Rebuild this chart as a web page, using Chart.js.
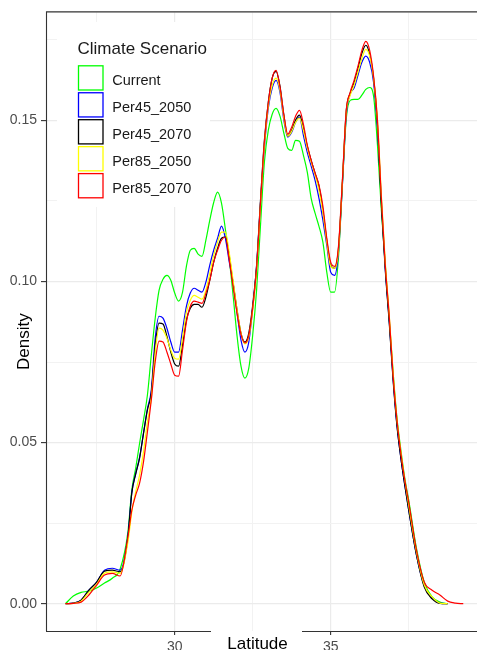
<!DOCTYPE html>
<html>
<head>
<meta charset="utf-8">
<script src="https://cdn.jsdelivr.net/npm/chart.js@4.4.1/dist/chart.umd.min.js"></script>
<style>
html,body{margin:0;padding:0;background:#ffffff;overflow:hidden}
canvas{display:block}
</style>
</head>
<body>
<canvas id="c" width="477" height="650"></canvas>
<script>
// ---- data ----
const latitude = [26.5, 26.75, 27, 27.25, 27.5, 27.75, 28, 28.25,
  28.5, 28.625, 28.75, 28.875, 29, 29.125, 29.25, 29.375, 29.5, 29.625, 29.75, 29.875,
  30, 30.125, 30.25, 30.375, 30.5, 30.625, 30.75, 30.875, 31, 31.125, 31.25, 31.375,
  31.5, 31.625, 31.75, 31.875, 32, 32.125, 32.25, 32.375, 32.5, 32.625, 32.75, 32.875,
  33, 33.125, 33.25, 33.375, 33.5, 33.625, 33.75, 33.875, 34, 34.125, 34.25, 34.375,
  34.5, 34.625, 34.75, 34.875, 35, 35.125, 35.25, 35.375, 35.5, 35.625, 35.75, 35.875,
  36, 36.125, 36.25, 36.375, 36.5, 36.625, 36.75, 36.875, 37, 37.125, 37.25, 37.375,
  37.5, 37.75, 38, 38.25, 38.5, 38.75, 39, 39.25];

const current = [0, .0024, .0035, .0039, .0049, .0064, .0079, .0107,
  .0222, .0353, .0421, .0498, .0570, .0647, .0771, .0886, .0973, .1007, .1019, .1004,
  .0964, .0939, .0966, .1047, .1097, .1103, .1085, .1078, .1128, .1190, .1245, .1277,
  .1243, .1162, .1069, .0954, .0830, .0737, .0700, .0731, .0833, .0973, .1174, .1370,
  .1469, .1519, .1537, .1513, .1460, .1413, .1407, .1438, .1435, .1392, .1339, .1258,
  .1212, .1171, .1122, .1029, .0967, .0967, .1075, .1299, .1506, .1562, .1565, .1565,
  .1578, .1596, .1602, .1575, .1423, .1221, .1051, .0886, .0719, .0576, .0477, .0390,
  .0322, .0172, .0067, .0021, .0005, 0, null, null];

const per45_2050 = [0, .0002, .0011, .0042, .0067, .0104, .0110, .0104,
  .0210, .0345, .0404, .0455, .0530, .0605, .0663, .0824, .0892, .0886, .0855, .0812,
  .0781, .0781, .0849, .0923, .0964, .0979, .0973, .0967, .0998, .1051, .1097, .1134,
  .1172, .1134, .1060, .0995, .0901, .0818, .0781, .0812, .0917, .1047, .1243, .1414,
  .1538, .1600, .1624, .1587, .1500, .1448, .1463, .1494, .1510, .1454, .1401, .1358,
  .1314, .1258, .1190, .1113, .1029, .1019, .1091, .1299, .1516, .1582, .1600, .1640,
  .1680, .1699, .1680, .1618, .1475, .1252, .1041, .0880, .0700, .0554, .0452, .0368,
  .0291, .0151, .0055, .0018, .0002, 0, null, null];

const per45_2070 = [0, .0002, .0011, .0042, .0067, .0101, .0104, .0099,
  .0204, .0343, .0402, .0452, .0528, .0601, .0654, .0802, .0871, .0868, .0830, .0781,
  .0744, .0737, .0802, .0880, .0917, .0929, .0929, .0920, .0951, .1004, .1060, .1103,
  .1134, .1138, .1079, .0992, .0911, .0840, .0812, .0840, .0926, .1050, .1252, .1438,
  .1556, .1631, .1652, .1606, .1516, .1451, .1469, .1501, .1516, .1476, .1420, .1376,
  .1336, .1296, .1221, .1128, .1050, .1041, .1103, .1308, .1531, .1584, .1618, .1662,
  .1708, .1733, .1705, .1631, .1485, .1237, .1035, .0874, .0694, .0551, .0452, .0368,
  .0291, .0151, .0052, .0015, .0001, 0, null, null];

const per85_2050 = [0, .0001, .0008, .0036, .0061, .0095, .0099, .0094,
  .0191, .0284, .0347, .0399, .0471, .0564, .0638, .0781, .0855, .0849, .0824, .0787,
  .0762, .0759, .0824, .0905, .0942, .0957, .0951, .0945, .0973, .1025, .1081, .1122,
  .1153, .1153, .1088, .1001, .0911, .0840, .0806, .0827, .0911, .1035, .1236, .1420,
  .1544, .1609, .1631, .1594, .1507, .1451, .1466, .1494, .1507, .1469, .1414, .1370,
  .1330, .1283, .1215, .1122, .1047, .1041, .1097, .1308, .1525, .1578, .1609, .1650,
  .1692, .1720, .1699, .1631, .1500, .1267, .1060, .0899, .0719, .0570, .0471, .0384,
  .0306, .0160, .0058, .0021, .0002, 0, null, null];

const per85_2070 = [0, .0001, .0005, .0027, .0058, .0089, .0094, .0086,
  .0207, .0290, .0337, .0374, .0440, .0533, .0632, .0750, .0815, .0812, .0781, .0744,
  .0709, .0706, .0787, .0874, .0923, .0939, .0936, .0932, .0963, .1004, .1060, .1097,
  .1128, .1138, .1066, .0983, .0901, .0836, .0809, .0833, .0917, .1041, .1243, .1432,
  .1554, .1631, .1655, .1603, .1516, .1457, .1479, .1513, .1531, .1488, .1423, .1376,
  .1336, .1299, .1234, .1134, .1060, .1047, .1109, .1314, .1531, .1587, .1624, .1668,
  .1717, .1745, .1717, .1637, .1500, .1258, .1051, .0896, .0709, .0570, .0467, .0384,
  .0316, .0166, .0067, .0042, .0027, .0008, .0002, 0];

const seriesNames = ['Current', 'Per45_2050', 'Per45_2070', 'Per85_2050', 'Per85_2070'];
const seriesValues = [current, per45_2050, per45_2070, per85_2050, per85_2070];
const seriesColors = ['#00FF00', '#0000FF', '#000000', '#FFFF00', '#FF0000'];

const xGridValues = [27.5, 30, 32.5, 35, 37.5];
const xLabelValues = [30, 35];
const yGridValues = [0, 0.025, 0.05, 0.075, 0.1, 0.125, 0.15, 0.175];
const yLabelValues = [0, 0.05, 0.1, 0.15];

const legendTitle = 'Climate Scenario';
const xTitle = 'Latitude';
const yTitle = 'Density';

// ---- helpers ----
const isIn = (arr, v) => arr.some(a => Math.abs(a - v) < 1e-9);
const FONT = '"Liberation Sans", Arial, sans-serif';

const decor = {
  id: 'decor',
  beforeDatasetsDraw(chart) {
    const ctx = chart.ctx;
    ctx.save();
    ctx.fillStyle = '#ffffff';
    ctx.fillRect(57, 22, 153, 185); // legend background
    ctx.restore();
  },
  afterDraw(chart) {
    const ctx = chart.ctx;
    const a = chart.chartArea;
    ctx.save();
    // panel border
    ctx.strokeStyle = '#333333';
    ctx.lineWidth = 1.1;
    ctx.beginPath();
    ctx.moveTo(a.left + 0.5, a.bottom + 0.5);
    ctx.lineTo(a.left + 0.5, a.top - 0.5);
    ctx.lineTo(a.right + 2, a.top - 0.5);
    ctx.moveTo(a.left, a.bottom + 0.5);
    ctx.lineTo(211, a.bottom + 0.5);
    ctx.moveTo(302, a.bottom + 0.5);
    ctx.lineTo(a.right + 2, a.bottom + 0.5);
    ctx.stroke();

    // legend
    ctx.fillStyle = '#1a1a1a';
    ctx.font = '17px ' + FONT;
    ctx.textAlign = 'left';
    ctx.textBaseline = 'alphabetic';
    ctx.fillText(legendTitle, 77.5, 54);
    ctx.font = '14.5px ' + FONT;
    seriesNames.forEach((name, i) => {
      const top = 65.8 + 26.95 * i;
      ctx.fillStyle = '#ffffff';
      ctx.fillRect(78.5, top, 24.5, 24.2);
      ctx.strokeStyle = seriesColors[i];
      ctx.lineWidth = 1.3;
      ctx.strokeRect(78.5, top, 24.5, 24.2);
      ctx.fillStyle = '#1a1a1a';
      ctx.fillText(name, 112.3, top + 19.2);
    });

    // axis titles
    ctx.fillStyle = '#000000';
    ctx.font = '17px ' + FONT;
    ctx.textAlign = 'center';
    ctx.fillText(xTitle, 257.5, 649);
    ctx.translate(28.5, 341.7);
    ctx.rotate(-Math.PI / 2);
    ctx.fillText(yTitle, 0, 0);
    ctx.restore();
  }
};

const datasets = seriesNames.map((name, i) => ({
  label: name,
  data: latitude.map((x, j) => ({ x: x, y: seriesValues[i][j] })),
  borderColor: seriesColors[i],
  backgroundColor: seriesColors[i],
  borderWidth: 1.2,
  pointRadius: 0,
  fill: false,
  cubicInterpolationMode: 'monotone',
  spanGaps: false,
  order: seriesNames.length - i
}));

new Chart(document.getElementById('c'), {
  type: 'line',
  data: { datasets },
  plugins: [decor],
  options: {
    responsive: false,
    devicePixelRatio: 1,
    animation: false,
    events: [],
    layout: { padding: { top: 12, right: 0, bottom: 0, left: 0 } },
    plugins: { legend: { display: false }, tooltip: { enabled: false }, title: { display: false } },
    scales: {
      x: {
        type: 'linear',
        min: 25.875,
        max: 39.69,
        afterBuildTicks: s => { s.ticks = xGridValues.map(v => ({ value: v })); },
        afterFit: s => { s.height = 19; },
        border: { display: false },
        grid: {
          color: ctx => isIn(xLabelValues, ctx.tick.value) ? '#EBEBEB' : '#F2F2F2',
          lineWidth: ctx => isIn(xLabelValues, ctx.tick.value) ? 1.2 : 1,
          drawTicks: true,
          tickLength: 4,
          tickWidth: 1.1,
          tickColor: ctx => isIn(xLabelValues, ctx.tick.value) ? '#333333' : 'rgba(0,0,0,0)'
        },
        ticks: {
          autoSkip: false,
          maxRotation: 0,
          padding: 3.5,
          color: '#4D4D4D',
          font: { family: FONT, size: 14 },
          callback: v => isIn(xLabelValues, v) ? String(Math.round(v)) : ''
        }
      },
      y: {
        type: 'linear',
        min: -0.00847,
        max: 0.1835,
        afterBuildTicks: s => { s.ticks = yGridValues.map(v => ({ value: v })); },
        afterFit: s => { s.width = 46; },
        border: { display: false },
        grid: {
          color: ctx => isIn(yLabelValues, ctx.tick.value) ? '#EBEBEB' : '#F2F2F2',
          lineWidth: ctx => isIn(yLabelValues, ctx.tick.value) ? 1.2 : 1,
          drawTicks: true,
          tickLength: 5,
          tickWidth: 1.1,
          tickColor: ctx => isIn(yLabelValues, ctx.tick.value) ? '#333333' : 'rgba(0,0,0,0)'
        },
        ticks: {
          autoSkip: false,
          padding: 4,
          color: '#4D4D4D',
          font: { family: FONT, size: 14 },
          callback: v => isIn(yLabelValues, v) ? v.toFixed(2) : ''
        }
      }
    }
  }
});
</script>
</body>
</html>
